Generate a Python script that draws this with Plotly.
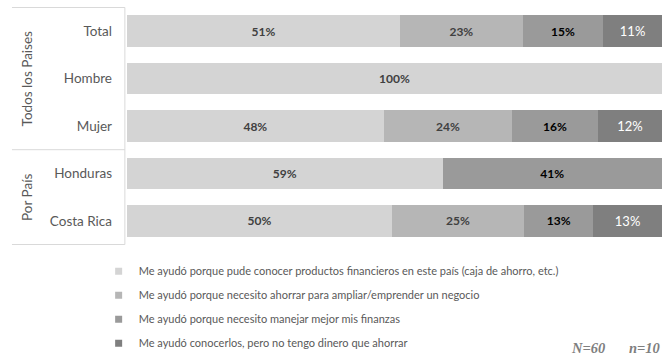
import plotly.graph_objects as go

# Respondent groups (top to bottom) and answer shares in percent
categories = ["Total", "Hombre", "Mujer", "Honduras", "Costa Rica"]
series_names = [
    "Me ayudó porque pude conocer productos financieros en este país (caja de ahorro, etc.)",
    "Me ayudó porque necesito ahorrar para ampliar/emprender un negocio",
    "Me ayudó porque necesito manejar mejor mis finanzas",
    "Me ayudó conocerlos, pero no tengo dinero que ahorrar",
]
conocer_productos = [51, 100, 48, 59, 50]
ahorrar_negocio = [23, None, 24, None, 25]
manejar_finanzas = [15, None, 16, 41, 13]
sin_dinero = [11, None, 12, None, 13]
group_labels = ["Todos los Paises", "Por País"]
sample_notes = ["N=60", "n=10"]

series_values = [conocer_productos, ahorrar_negocio, manejar_finanzas, sin_dinero]
colors = ["#d4d4d4", "#b6b6b6", "#9a9a9a", "#7f7f7f"]
label_fonts = [
    dict(family="Lato", size=12, color="#404040", weight="bold"),
    dict(family="Lato", size=12, color="#404040", weight="bold"),
    dict(family="Lato", size=12, color="#000000", weight="bold"),
    dict(family="Lato", size=13, color="#ffffff"),
]

fig = go.Figure()
for name, vals, col, tf in zip(series_names, series_values, colors, label_fonts):
    fig.add_trace(go.Bar(
        y=categories, x=vals, orientation="h", name=name,
        marker=dict(color=col, line=dict(width=0)),
        text=[f"{v}%" if v is not None else "" for v in vals],
        textposition="inside", insidetextanchor="middle",
        textfont=tf, constraintext="none",
        showlegend=False, hoverinfo="skip",
    ))
    # legend entry with a small square swatch
    fig.add_trace(go.Scatter(
        x=[None], y=[None], mode="markers", name=name,
        marker=dict(symbol="square", size=7, color=col),
        legendgroup=name, showlegend=True,
    ))

fig.update_layout(
    width=672, height=356,
    margin=dict(l=127, r=10, t=7, b=111, autoexpand=False),
    barmode="stack", barnorm="percent", bargap=0.33,
    paper_bgcolor="white", plot_bgcolor="white",
    font=dict(family="Lato", color="#595959"),
    xaxis=dict(range=[0, 100], visible=False, fixedrange=True),
    yaxis=dict(
        autorange="reversed", showgrid=False, zeroline=False, showline=False,
        ticks="", ticklabelstandoff=14,
        tickfont=dict(family="Lato", size=13.5, color="#595959"),
    ),
    legend=dict(
        x=-0.053, xanchor="left", y=-0.049, yanchor="top",
        orientation="v", tracegroupgap=5, itemwidth=30,
        font=dict(family="Lato", size=11, color="#595959"),
        bgcolor="rgba(0,0,0,0)",
    ),
)

# frame around the category labels, split between the two groups
line_style = dict(color="#d9d9d9", width=1)
x0, x1 = -0.215, -0.004
for yv in [-0.5, 2.5, 4.5]:
    fig.add_shape(type="line", xref="paper", yref="y", x0=x0, x1=x1, y0=yv, y1=yv, line=line_style)
fig.add_shape(type="line", xref="paper", yref="y", x0=x1, x1=x1, y0=-0.5, y1=4.5, line=line_style)

# rotated group titles
fig.add_annotation(text=group_labels[0], xref="paper", yref="y", x=-0.206, y=1.0,
                   textangle=-90, showarrow=False, font=dict(family="Lato", size=13.5, color="#595959"))
fig.add_annotation(text=group_labels[1], xref="paper", yref="y", x=-0.206, y=3.5,
                   textangle=-90, showarrow=False, font=dict(family="Lato", size=13.5, color="#595959"))

# sample size notes
note_font = dict(family="Liberation Serif", size=14.5, color="#7f7f7f", style="italic", weight="bold")
fig.add_annotation(text=sample_notes[0], xref="paper", yref="paper", x=0.826, y=-0.433,
                   xanchor="left", yanchor="middle", showarrow=False, font=note_font)
fig.add_annotation(text=sample_notes[1], xref="paper", yref="paper", x=1.0, y=-0.433,
                   xanchor="right", yanchor="middle", showarrow=False, font=note_font)

fig.write_html("out.html")
